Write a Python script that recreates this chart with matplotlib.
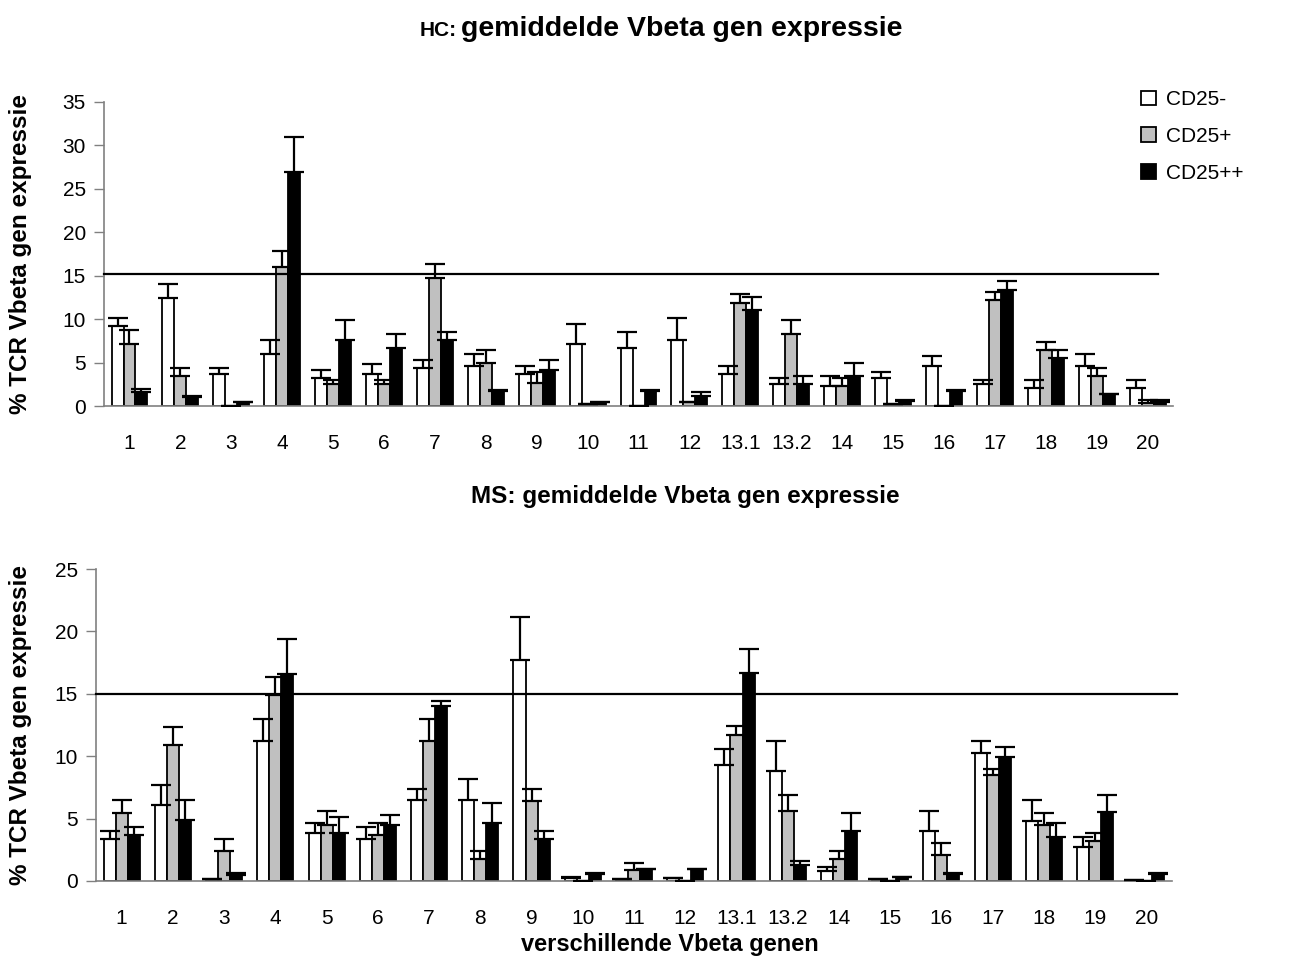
import numpy as np
import matplotlib
matplotlib.use('Agg')
import matplotlib.pyplot as plt
from matplotlib.patches import Patch

plt.rcParams['font.family'] = ['Liberation Sans', 'DejaVu Sans']

# Vbeta genes on the x axis
genes = ['1', '2', '3', '4', '5', '6', '7', '8', '9', '10', '11', '12',
         '13.1', '13.2', '14', '15', '16', '17', '18', '19', '20']

# HC (healthy controls): means and SEM per fraction
hc_neg = [9.2, 12.4, 3.65, 5.95, 3.26, 3.65, 4.37, 4.6, 3.65, 7.1, 6.65, 7.55,
          3.65, 2.5, 2.3, 3.2, 4.57, 2.53, 2.03, 4.57, 2.03]
hc_neg_sem = [0.9, 1.6, 0.75, 1.65, 0.84, 1.15, 0.93, 1.35, 0.95, 2.3, 1.85, 2.55,
              0.95, 0.76, 1.15, 0.7, 1.18, 0.42, 0.92, 1.38, 0.92]
hc_pos = [7.1, 3.45, 0.0, 16.0, 2.5, 2.5, 14.7, 5.0, 2.7, 0.2, 0.0, 0.46,
          11.9, 8.25, 2.3, 0.2, 0.0, 12.2, 6.45, 3.45, 0.4]
hc_pos_sem = [1.65, 0.95, 0.0, 1.9, 0.45, 0.45, 1.65, 1.4, 1.2, 0.08, 0.0, 0.04,
              1.0, 1.65, 0.96, 0.08, 0.0, 0.9, 0.92, 0.95, 0.3]
hc_pp = [1.65, 1.07, 0.46, 26.9, 7.6, 6.7, 7.6, 1.73, 4.15, 0.46, 1.73, 1.2,
         11.05, 2.57, 3.45, 0.58, 1.73, 13.35, 5.56, 1.34, 0.5]
hc_pp_sem = [0.35, 0.08, 0.04, 4.1, 2.3, 1.55, 0.9, 0.11, 1.15, 0.04, 0.11, 0.4,
             1.55, 0.88, 1.55, 0.12, 0.11, 1.05, 0.89, 0.06, 0.2]

# MS patients
ms_neg = [3.37, 6.1, 0.16, 11.24, 3.85, 3.37, 6.45, 6.45, 17.67, 0.27, 0.13, 0.27,
          9.29, 8.83, 0.78, 0.13, 4.0, 10.28, 4.82, 2.73, 0.05]
ms_neg_sem = [0.63, 1.6, 0.0, 1.76, 0.81, 0.97, 0.94, 1.74, 3.5, 0.05, 0.0, 0.0,
              1.31, 2.37, 0.32, 0.0, 1.62, 0.92, 1.63, 0.8, 0.0]
ms_pos = [5.46, 10.9, 2.38, 14.94, 4.5, 3.67, 11.24, 1.74, 6.42, 0.0, 0.91, 0.0,
          11.72, 5.62, 1.74, 0.0, 2.09, 8.49, 4.5, 3.19, 0.0]
ms_pos_sem = [0.99, 1.47, 0.99, 1.44, 1.12, 0.99, 1.76, 0.64, 0.97, 0.0, 0.51, 0.0,
              0.68, 1.26, 0.64, 0.0, 0.93, 0.51, 0.96, 0.66, 0.0]
ms_pp = [3.7, 4.85, 0.45, 16.57, 3.85, 4.52, 14.0, 4.68, 3.4, 0.56, 0.94, 0.94,
         16.68, 1.31, 4.0, 0.29, 0.59, 9.96, 3.56, 5.49, 0.59]
ms_pp_sem = [0.64, 1.6, 0.19, 2.86, 1.29, 0.78, 0.45, 1.56, 0.6, 0.08, 0.03, 0.03,
             1.92, 0.27, 1.43, 0.03, 0.05, 0.77, 1.1, 1.39, 0.05]

labels = ['CD25-', 'CD25+', 'CD25++']
colors = ['white', '#c0c0c0', 'black']
threshold_hc = 15.2
threshold_ms = 15


def draw_panel(ax, series, sems, ymax, thr, thr_xmax, ylab_x):
    x = np.arange(len(genes))
    w = 0.235
    for i, (vals, sem) in enumerate(zip(series, sems)):
        pos = x + (i - 1) * w
        ax.bar(pos, vals, width=w, color=colors[i], edgecolor='black',
               linewidth=1.3, zorder=2)
        # only the upper half of the error bar is shown
        ax.errorbar(pos, vals, yerr=[np.zeros(len(vals)), sem], fmt='none',
                    ecolor='black', elinewidth=1.6, capsize=7.5, capthick=1.6,
                    zorder=3)
    ax.axhline(thr, xmin=0, xmax=thr_xmax, color='black', linewidth=1.6,
               zorder=4, clip_on=False)
    ax.set_xlim(-0.5, len(genes) - 0.5)
    ax.set_ylim(0, ymax)
    ax.set_xticks(x)
    ax.set_xticklabels(genes, fontsize=15)
    ax.tick_params(axis='x', length=0, pad=20)
    ax.tick_params(axis='y', labelsize=15, length=7, width=1, color='#808080',
                   direction='out', pad=6)
    for s in ['top', 'right']:
        ax.spines[s].set_visible(False)
    for s in ['left', 'bottom']:
        ax.spines[s].set_color('#808080')
        ax.spines[s].set_linewidth(1.2)
    ax.set_ylabel('% TCR Vbeta gen expressie', fontsize=17.5, fontweight='bold')
    ax.yaxis.set_label_coords(ylab_x, 0.5)


fig = plt.figure(figsize=(13.07, 9.77), dpi=100)

ax1 = fig.add_axes([0.0796, 0.5844, 0.8179, 0.3112])
draw_panel(ax1, [hc_neg, hc_pos, hc_pp], [hc_neg_sem, hc_pos_sem, hc_pp_sem],
           35, threshold_hc, 0.986, -0.0674)
ax1.set_yticks(np.arange(0, 36, 5))

ax2 = fig.add_axes([0.0735, 0.0983, 0.8232, 0.3193])
draw_panel(ax2, [ms_neg, ms_pos, ms_pp], [ms_neg_sem, ms_pos_sem, ms_pp_sem],
           25, threshold_ms, 1.005, -0.0595)
ax2.set_yticks(np.arange(0, 26, 5))
ax2.set_xlabel('verschillende Vbeta genen', fontsize=17, fontweight='bold')
ax2.xaxis.set_label_coords(0.533, -0.168)

# titles
fig.text(457 / 1307, 1 - 36 / 977, 'HC:', fontsize=15, fontweight='bold',
         ha='right', va='baseline')
fig.text(461 / 1307, 1 - 36 / 977, 'gemiddelde Vbeta gen expressie',
         fontsize=20.5, fontweight='bold', ha='left', va='baseline')
fig.text(0.524, 1 - 503 / 977, 'MS: gemiddelde Vbeta gen expressie',
         fontsize=17.5, fontweight='bold', ha='center', va='baseline')

handles = [Patch(facecolor=c, edgecolor='black', linewidth=1.3) for c in colors]
fig.legend(handles, labels, loc='upper left', bbox_to_anchor=(1133 / 1307, 1 - 82 / 977),
           frameon=False, fontsize=15, handlelength=0.7, handleheight=0.7,
           handletextpad=0.5, labelspacing=0.85, borderaxespad=0)

fig.savefig('out.png', dpi=100)
